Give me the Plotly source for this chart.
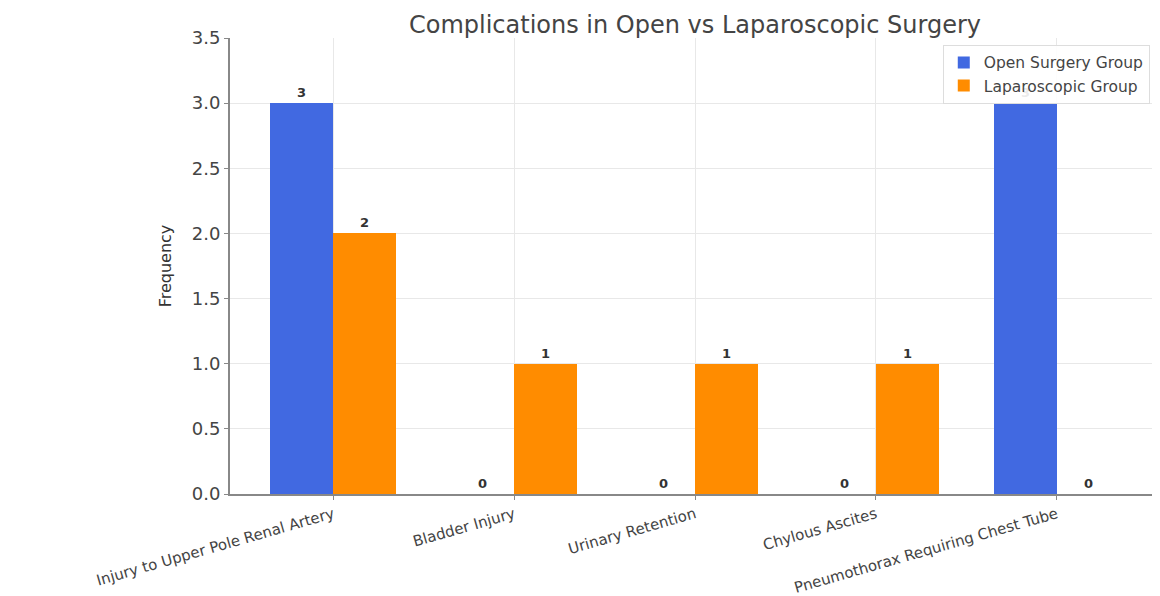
import plotly.graph_objects as go

categories = ["Injury to Upper Pole Renal Artery", "Bladder Injury", "Urinary Retention",
              "Chylous Ascites", "Pneumothorax Requiring Chest Tube"]
open_group = [3, 0, 0, 0, 3]
lap_group = [2, 1, 1, 1, 0]
y_ticks = [0.0, 0.5, 1.0, 1.5, 2.0, 2.5, 3.0, 3.5]

xpos = list(range(len(categories)))
w = 0.35

fig = go.Figure()
fig.add_trace(go.Bar(
    x=[p - w / 2 for p in xpos], y=open_group, width=w, name="Open Surgery Group",
    marker=dict(color="#4169E1", line=dict(width=0)),
    text=[f"<b>{v}</b>" for v in open_group], textposition="outside",
    textfont=dict(size=13, color="#333333", family="DejaVu Sans"), cliponaxis=False,
))
fig.add_trace(go.Bar(
    x=[p + w / 2 for p in xpos], y=lap_group, width=w, name="Laparoscopic Group",
    marker=dict(color="#FF8C00", line=dict(width=0)),
    text=[f"<b>{v}</b>" for v in lap_group], textposition="outside",
    textfont=dict(size=13, color="#333333", family="DejaVu Sans"), cliponaxis=False,
))

fig.update_layout(
    width=1152, height=588,
    margin=dict(l=222, r=0, t=30, b=102),
    paper_bgcolor="white", plot_bgcolor="white",
    font=dict(family="DejaVu Sans", color="#444444"),
    title=dict(text="Complications in Open vs Laparoscopic Surgery", xref="paper", x=0.5,
               xanchor="center", yref="container", y=0.972, yanchor="middle",
               font=dict(size=24, color="#444444")),
    barmode="overlay",
    bargap=0,
    legend=dict(x=0.989, y=0.985, xanchor="right", yanchor="top",
                bgcolor="rgba(255,255,255,0.9)", bordercolor="#dddddd", borderwidth=1,
                font=dict(size=15.5, color="#444444"), tracegroupgap=0),
    showlegend=True,
)
fig.update_xaxes(
    range=[-0.57, 4.57], tickmode="array", tickvals=xpos, ticktext=categories,
    tickangle=-16, tickfont=dict(size=15, color="#444444"),
    showgrid=True, gridcolor="#e8e8e8", showline=True, linecolor="#888888", linewidth=2,
    ticks="outside", ticklen=4, tickcolor="#888888", automargin=False, zeroline=False,
)
fig.update_yaxes(
    range=[0, 3.5], tickmode="array", tickvals=y_ticks,
    ticktext=[f"{v:.1f}" for v in y_ticks], tickfont=dict(size=18, color="#444444"),
    title=dict(text="Frequency", font=dict(size=16, color="#333333"), standoff=16),
    showgrid=True, gridcolor="#e8e8e8", showline=True, linecolor="#888888", linewidth=2,
    ticks="outside", ticklen=4, tickcolor="#888888", zeroline=False, automargin=False,
)

fig.write_html("out.html")
